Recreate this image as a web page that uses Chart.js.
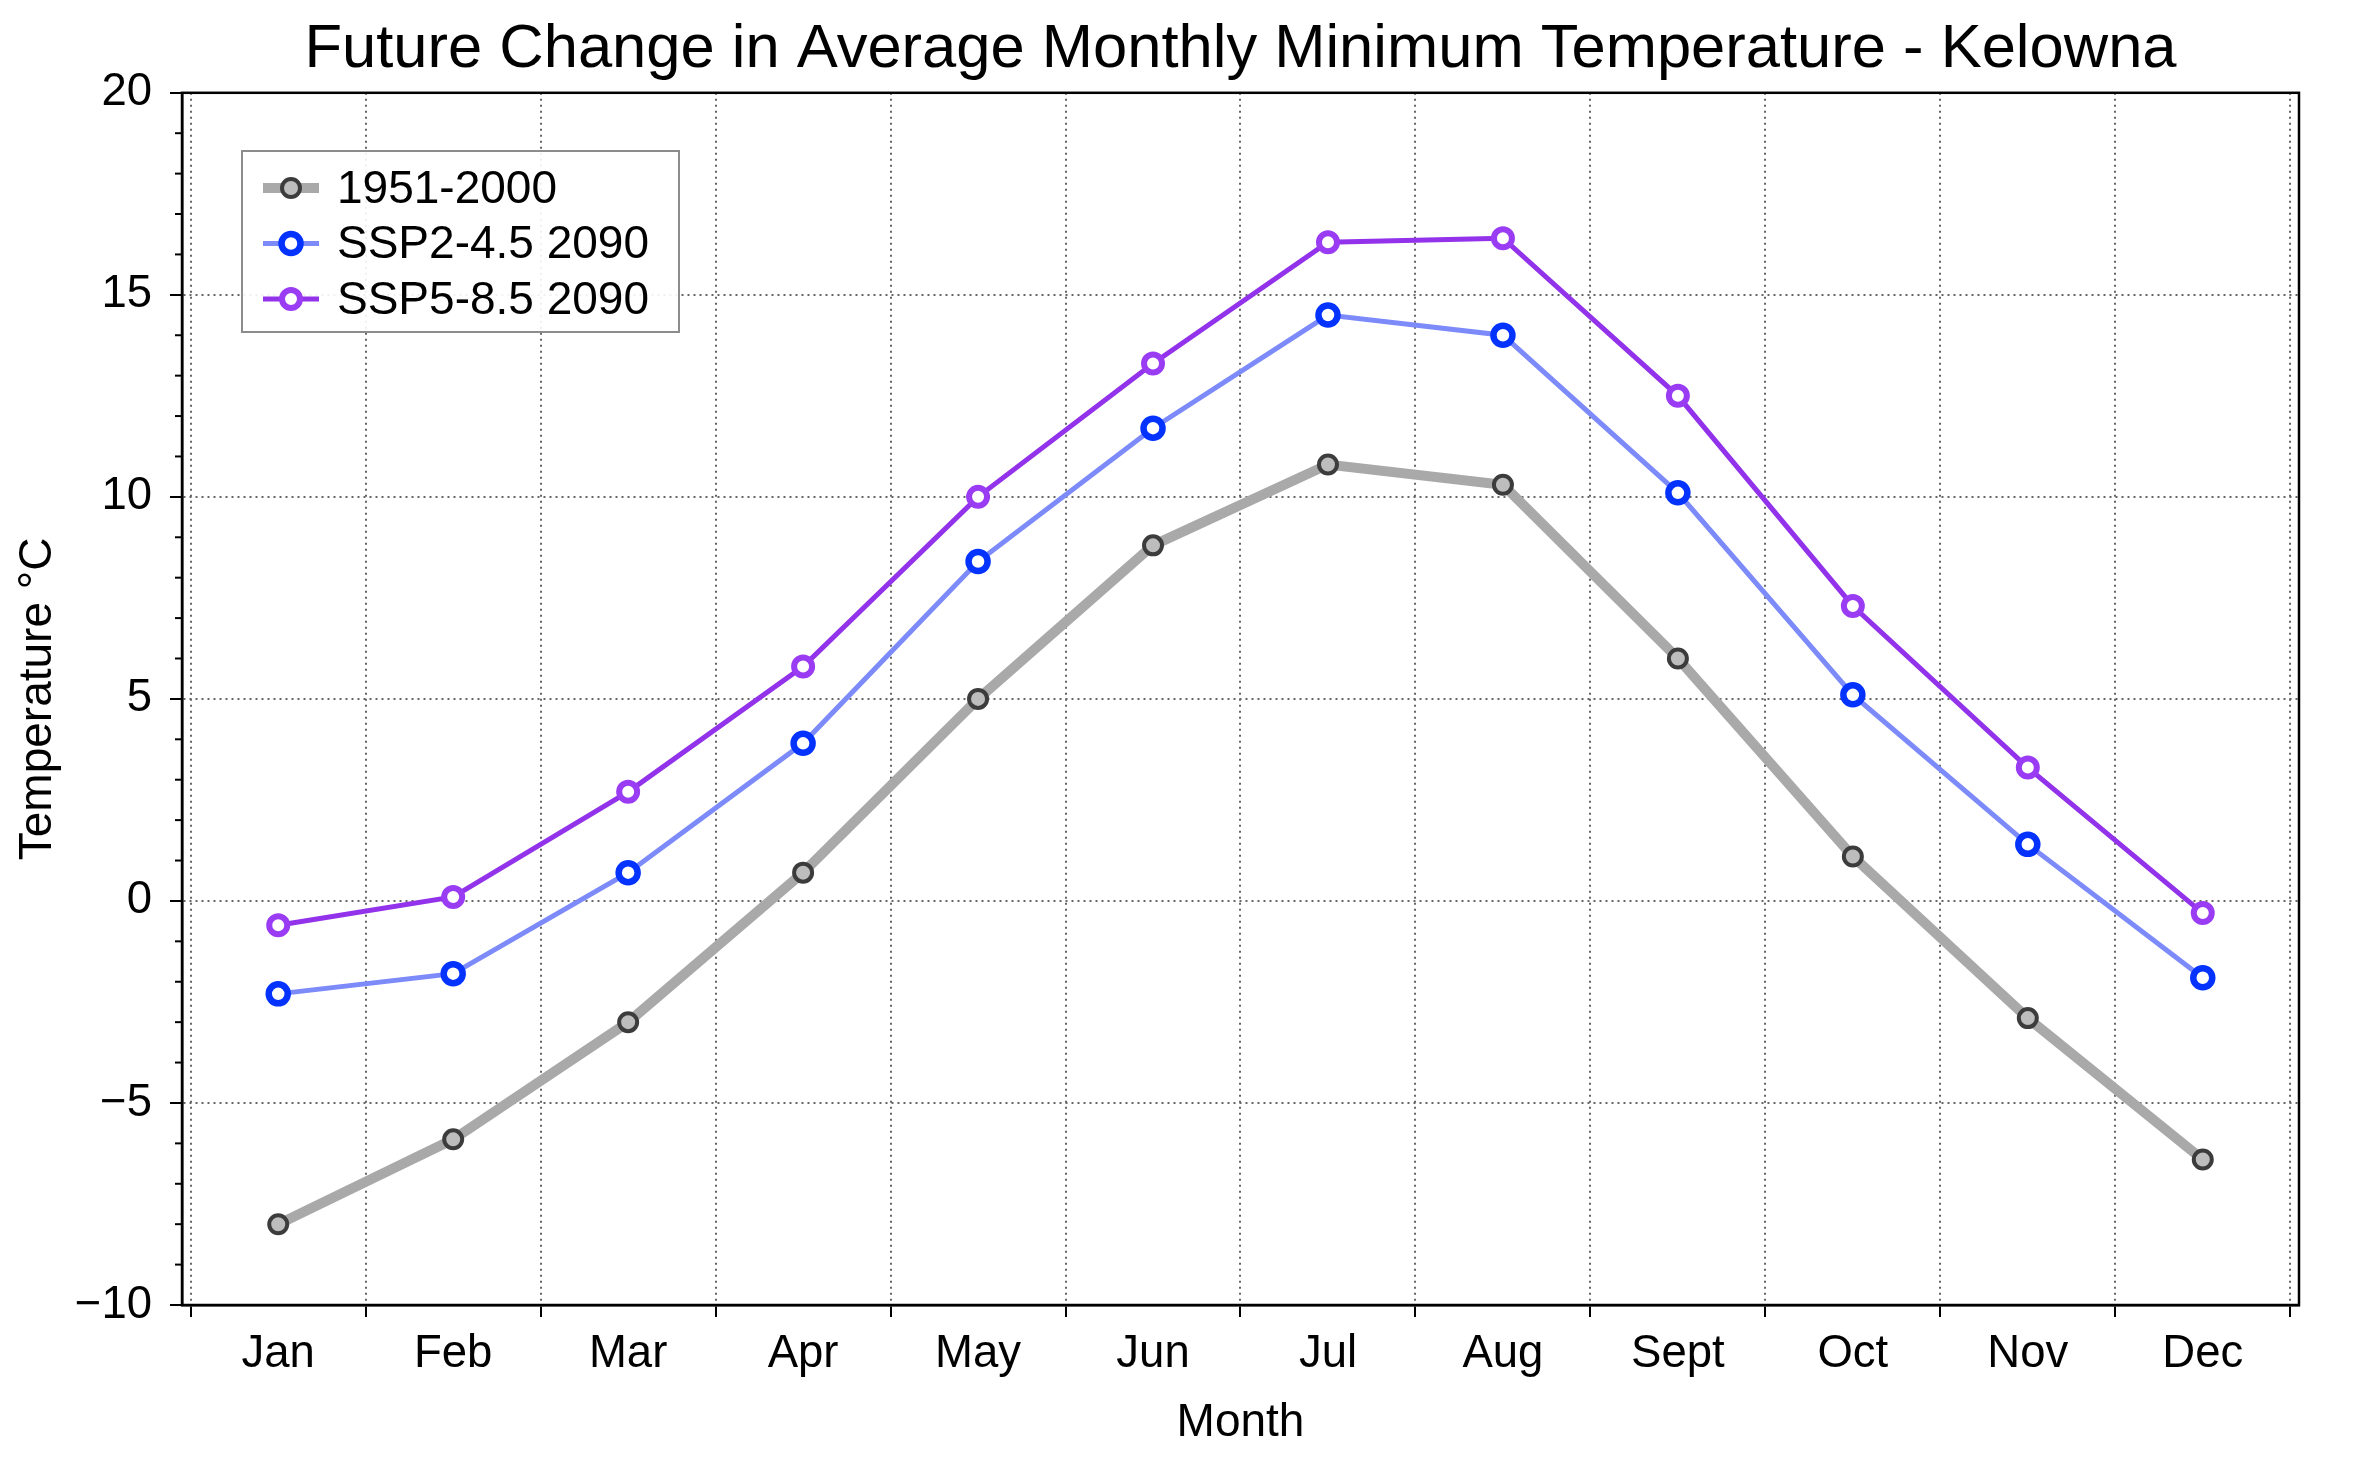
<!DOCTYPE html>
<html>
<head>
<meta charset="utf-8">
<script src="https://cdn.jsdelivr.net/npm/chart.js@4"></script>
<style>
  body { margin: 0; background: #fff; }
  canvas { display: block; }
</style>
</head>
<body>
<canvas id="chart" width="2360" height="1464"></canvas>
<script>
const months = ['Jan', 'Feb', 'Mar', 'Apr', 'May', 'Jun', 'Jul', 'Aug', 'Sept', 'Oct', 'Nov', 'Dec'];
const hist = [-8.0, -5.9, -3.0, 0.7, 5.0, 8.8, 10.8, 10.3, 6.0, 1.1, -2.9, -6.4];
const ssp245 = [-2.3, -1.8, 0.7, 3.9, 8.4, 11.7, 14.5, 14.0, 10.1, 5.1, 1.4, -1.9];
const ssp585 = [-0.6, 0.1, 2.7, 5.8, 10.0, 13.3, 16.3, 16.4, 12.5, 7.3, 3.3, -0.3];
const seriesLabels = ['1951-2000', 'SSP2-4.5 2090', 'SSP5-8.5 2090'];
const yTicks = [-10, -5, 0, 5, 10, 15, 20];

Chart.defaults.font.family = '"Liberation Sans", Arial, sans-serif';
Chart.defaults.color = '#000';

const toPoints = vals => vals.map((v, i) => ({ x: i, y: v }));
const minus = s => String(s).replace('-', '\u2212');

// ticks at month boundaries (grid) and month centres (labels)
const xTickVals = [];
for (let i = -1; i < months.length; i++) {
  xTickVals.push(i + 0.5);
  if (i + 1 < months.length) xTickVals.push(i + 1);
}
xTickVals.sort((a, b) => a - b);

// box, minor y ticks and the legend inside the plot
const extras = {
  id: 'extras',
  afterDraw(chart) {
    const ctx = chart.ctx;
    const a = chart.chartArea;
    const y = chart.scales.y;
    ctx.save();

    // minor ticks on y
    ctx.strokeStyle = '#000';
    ctx.lineWidth = 2;
    for (let v = yTicks[0]; v <= yTicks[yTicks.length - 1]; v++) {
      if (v % 5 === 0) continue;
      const py = y.getPixelForValue(v);
      ctx.beginPath();
      ctx.moveTo(a.left - 7, py);
      ctx.lineTo(a.left, py);
      ctx.stroke();
    }

    // frame
    ctx.lineWidth = 2.5;
    ctx.strokeRect(a.left, a.top, a.right - a.left, a.bottom - a.top);

    // legend
    const lx = 242, ly = 151, lw = 437, lh = 181;
    ctx.fillStyle = 'rgba(255,255,255,0.9)';
    ctx.fillRect(lx, ly, lw, lh);
    ctx.strokeStyle = '#8c8c8c';
    ctx.lineWidth = 2;
    ctx.strokeRect(lx, ly, lw, lh);
    chart.data.datasets.forEach((ds, i) => {
      const cy = 188 + i * 55.5;
      ctx.strokeStyle = ds.borderColor;
      ctx.lineWidth = ds.borderWidth;
      ctx.beginPath();
      ctx.moveTo(263, cy);
      ctx.lineTo(319, cy);
      ctx.stroke();
      ctx.beginPath();
      ctx.arc(291, cy, ds.pointRadius, 0, Math.PI * 2);
      ctx.fillStyle = ds.pointBackgroundColor;
      ctx.fill();
      ctx.lineWidth = ds.pointBorderWidth;
      ctx.strokeStyle = ds.pointBorderColor;
      ctx.stroke();
      ctx.fillStyle = '#000';
      ctx.font = '46px "Liberation Sans", Arial, sans-serif';
      ctx.textBaseline = 'middle';
      ctx.textAlign = 'left';
      ctx.fillText(ds.label, 337, cy + 2);
    });
    ctx.restore();
  }
};

new Chart(document.getElementById('chart'), {
  type: 'line',
  data: {
    datasets: [
      {
        label: seriesLabels[0],
        data: toPoints(hist),
        borderColor: '#a9a9a9',
        borderWidth: 10,
        pointRadius: 9,
        pointBorderWidth: 4,
        pointBackgroundColor: '#bdbdbd',
        pointBorderColor: '#3c3c3c'
      },
      {
        label: seriesLabels[1],
        data: toPoints(ssp245),
        borderColor: '#7d8bfa',
        borderWidth: 5,
        pointRadius: 9.5,
        pointBorderWidth: 6.5,
        pointBackgroundColor: '#ffffff',
        pointBorderColor: '#0433ff'
      },
      {
        label: seriesLabels[2],
        data: toPoints(ssp585),
        borderColor: '#9232ea',
        borderWidth: 5,
        pointRadius: 9,
        pointBorderWidth: 6,
        pointBackgroundColor: '#ffffff',
        pointBorderColor: '#9a3cf3'
      }
    ]
  },
  options: {
    responsive: false,
    devicePixelRatio: 1,
    animation: false,
    layout: { padding: { top: 0, right: 61, bottom: 0, left: 0 } },
    elements: { line: { tension: 0 } },
    plugins: {
      legend: { display: false },
      tooltip: { enabled: false },
      title: {
        display: true,
        text: 'Future Change in Average Monthly Minimum Temperature - Kelowna',
        font: { size: 61.5, weight: 'normal' },
        padding: { top: 13, bottom: 6 },
        fullSize: false,
        color: '#000'
      }
    },
    scales: {
      x: {
        type: 'linear',
        min: -0.55,
        max: 11.55,
        afterBuildTicks: s => { s.ticks = xTickVals.map(v => ({ value: v })); },
        afterFit: s => { s.height = 159; },
        ticks: {
          autoSkip: false,
          maxRotation: 0,
          padding: 10,
          font: { size: 45.5 },
          callback: v => Number.isInteger(v) ? months[v] : ''
        },
        grid: {
          color: c => Number.isInteger(c.tick && c.tick.value) ? 'rgba(0,0,0,0)' : '#666',
          tickColor: c => Number.isInteger(c.tick && c.tick.value) ? 'rgba(0,0,0,0)' : '#000',
          lineWidth: 2,
          tickWidth: 2,
          tickLength: 12
        },
        border: { display: true, color: '#000', width: 2.5, dash: [2, 4] },
        title: {
          display: true,
          text: 'Month',
          font: { size: 46 },
          padding: { top: 0, bottom: 13 }
        }
      },
      y: {
        type: 'linear',
        min: -10,
        max: 20,
        afterBuildTicks: s => { s.ticks = yTicks.map(v => ({ value: v })); },
        afterFit: s => { s.width = 182; },
        ticks: {
          padding: 18,
          font: { size: 45.5 },
          callback: v => minus(v)
        },
        grid: {
          color: '#666',
          tickColor: '#000',
          lineWidth: 2,
          tickWidth: 2,
          tickLength: 12
        },
        border: { display: true, color: '#000', width: 2.5, dash: [2, 4] },
        title: {
          display: true,
          text: 'Temperature \u00b0C',
          font: { size: 46 },
          padding: { top: 11, bottom: 0 }
        }
      }
    }
  },
  plugins: [extras]
});
</script>
</body>
</html>
